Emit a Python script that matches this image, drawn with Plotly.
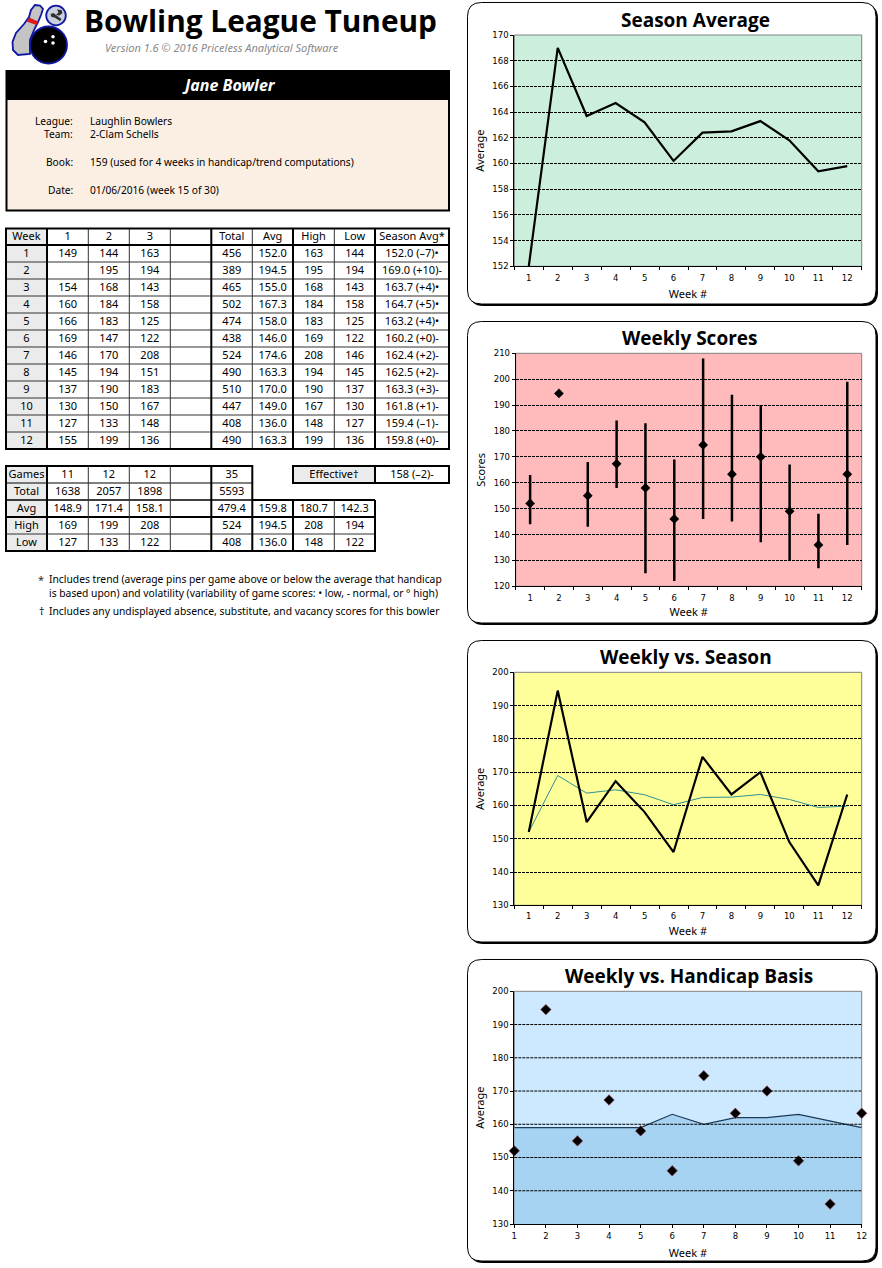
import plotly.graph_objects as go

W, H = 882, 1268

# ---------- data ----------
weeks = ["1", "2", "3", "4", "5", "6", "7", "8", "9", "10", "11", "12"]
week_nums = [1, 2, 3, 4, 5, 6, 7, 8, 9, 10, 11, 12]
game1 = ["149", "", "154", "160", "166", "169", "146", "145", "137", "130", "127", "155"]
game2 = ["144", "195", "168", "184", "183", "147", "170", "194", "190", "150", "133", "199"]
game3 = ["163", "194", "143", "158", "125", "122", "208", "151", "183", "167", "148", "136"]
totals = ["456", "389", "465", "502", "474", "438", "524", "490", "510", "447", "408", "490"]
avg_txt = ["152.0", "194.5", "155.0", "167.3", "158.0", "146.0", "174.6", "163.3", "170.0", "149.0", "136.0", "163.3"]
avg_vals = [152.0, 194.5, 155.0, 167.3, 158.0, 146.0, 174.6, 163.3, 170.0, 149.0, 136.0, 163.3]
high_vals = [163, 195, 168, 184, 183, 169, 208, 194, 190, 167, 148, 199]
low_vals = [144, 194, 143, 158, 125, 122, 146, 145, 137, 130, 127, 136]
season_vals = [152.0, 169.0, 163.7, 164.7, 163.2, 160.2, 162.4, 162.5, 163.3, 161.8, 159.4, 159.8]
season_txt = ["152.0 (–7)•", "169.0 (+10)-", "163.7 (+4)•", "164.7 (+5)•", "163.2 (+4)•", "160.2 (+0)-",
              "162.4 (+2)-", "162.5 (+2)-", "163.3 (+3)-", "161.8 (+1)-", "159.4 (–1)-", "159.8 (+0)-"]
basis_vals = [159, 159, 159, 159, 159, 163, 160, 162, 162, 163, 161, 159]

header_row = ["Week", "1", "2", "3", "", "Total", "Avg", "High", "Low", "Season Avg*"]
summary_rows = [
    ["Games", "11", "12", "12", "", "35"],
    ["Total", "1638", "2057", "1898", "", "5593"],
    ["Avg", "148.9", "171.4", "158.1", "", "479.4", "159.8", "180.7", "142.3"],
    ["High", "169", "199", "208", "", "524", "194.5", "208", "194"],
    ["Low", "127", "133", "122", "", "408", "136.0", "148", "122"],
]
info_labels = ["League:", "Team:", "Book:", "Date:"]
info_values = ["Laughlin Bowlers", "2-Clam Schells", "159 (used for 4 weeks in handicap/trend computations)",
               "01/06/2016 (week 15 of 30)"]

FONT = "Noto Sans"
TICK = "DejaVu Sans"

# ---------- pixel helpers ----------
def px(x): return x / W
def py(y): return 1 - y / H

shapes, annotations = [], []

def rect(x0, y0, x1, y1, fill="rgba(0,0,0,0)", line=None, lw=0, layer="below"):
    shapes.append(dict(type="rect", xref="paper", yref="paper", x0=px(x0), x1=px(x1), y0=py(y0), y1=py(y1),
                       fillcolor=fill, line=dict(color=line or "rgba(0,0,0,0)", width=lw), layer=layer))

def seg(x0, y0, x1, y1, lw=1, color="black", layer="below"):
    shapes.append(dict(type="line", xref="paper", yref="paper", x0=px(x0), x1=px(x1), y0=py(y0), y1=py(y1),
                       line=dict(color=color, width=lw), layer=layer))

def circle(cx, cy, r, fill, line=None, lw=0):
    shapes.append(dict(type="circle", xref="paper", yref="paper", x0=px(cx - r), x1=px(cx + r),
                       y0=py(cy - r), y1=py(cy + r), fillcolor=fill,
                       line=dict(color=line or "rgba(0,0,0,0)", width=lw), layer="below"))

def poly(points, fill, line=None, lw=0):
    d = "M" + " L".join(f"{px(a):.5f},{py(b):.5f}" for a, b in points) + " Z"
    shapes.append(dict(type="path", xref="paper", yref="paper", path=d, fillcolor=fill,
                       line=dict(color=line or "rgba(0,0,0,0)", width=lw), layer="below"))

def rrect(x0, y0, x1, y1, r, fill, line=None, lw=0):
    X0, X1, Y0, Y1, Rx, Ry = px(x0), px(x1), py(y0), py(y1), r / W, r / H
    d = (f"M{X0+Rx:.5f},{Y0:.5f} L{X1-Rx:.5f},{Y0:.5f} Q{X1:.5f},{Y0:.5f} {X1:.5f},{Y0-Ry:.5f} "
         f"L{X1:.5f},{Y1+Ry:.5f} Q{X1:.5f},{Y1:.5f} {X1-Rx:.5f},{Y1:.5f} "
         f"L{X0+Rx:.5f},{Y1:.5f} Q{X0:.5f},{Y1:.5f} {X0:.5f},{Y1+Ry:.5f} "
         f"L{X0:.5f},{Y0-Ry:.5f} Q{X0:.5f},{Y0:.5f} {X0+Rx:.5f},{Y0:.5f} Z")
    shapes.append(dict(type="path", xref="paper", yref="paper", path=d, fillcolor=fill,
                       line=dict(color=line or "rgba(0,0,0,0)", width=lw), layer="below"))

def label(x, y, text, size=11, color="black", family=FONT, anchor="center", bold=False, italic=False):
    t = text
    if bold: t = f"<b>{t}</b>"
    if italic: t = f"<i>{t}</i>"
    annotations.append(dict(xref="paper", yref="paper", x=px(x), y=py(y), text=t, showarrow=False,
                            xanchor=anchor, yanchor="middle", borderpad=0,
                            font=dict(size=size, color=color, family=family)))

fig = go.Figure()

# ---------- logo ----------
poly([(35, 5), (40, 5.5), (43, 9), (41, 15), (38, 22), (34, 30), (30, 40), (30, 54), (18, 55), (13, 50),
      (12.5, 42), (16, 33), (24, 24), (29, 17), (31, 10)], "#C4C4C4", "#1018A0", 1.8)
poly([(29.5, 17.5), (38, 21.5), (36.5, 25), (26.5, 21.5)], "#E01818")
circle(48.5, 45, 18.5, "#000000", "#1018A0", 1.8)
circle(53, 36.7, 1.8, "white")
circle(53, 43, 1.8, "white")
circle(45.5, 41.5, 1.8, "white")
circle(56, 15.5, 9.8, "#C8D0E0", "#1018A0", 1.8)
poly([(50.5, 14), (53.5, 13), (56, 15), (61.5, 19), (60, 21), (54.5, 17.5), (51.5, 17)], "#303030")
poly([(57, 9.5), (61.5, 10), (62.5, 13), (59.5, 15.5), (56, 15), (58.5, 12.5)], "#303030")

# ---------- header & info ----------
label(260.5, 20, "Bowling League Tuneup", size=29.8, family="Open Sans", bold=True)
label(222, 48, "Version 1.6 © 2016 Priceless Analytical Software", size=11, color="#8a8a8a", italic=True)

rect(6.5, 100, 448.5, 210.5, fill="#FBEEE2")
rect(6, 70, 449.5, 100, fill="black")
rect(6.5, 71, 449, 210.5, line="black", lw=2)
label(228.5, 85, "Jane Bowler", size=16, color="white", bold=True, italic=True)
for lab, val, y in zip(info_labels, info_values, [121, 134, 162, 190]):
    label(73.5, y, lab, anchor="right", size=10.2)
    label(89, y, val, anchor="left", size=10.2)

# ---------- tables ----------
col_edges = [6, 47, 88.3, 129.3, 170.3, 211.3, 252.3, 293, 334.3, 375, 449]
col_mid = [(a + b) / 2 for a, b in zip(col_edges[:-1], col_edges[1:])]
hdr_top, hdr_bot, row_h = 228.5, 245, 17
row_edges = [hdr_bot + i * row_h for i in range(13)]

rect(col_edges[0], hdr_top, col_edges[1], row_edges[-1], fill="#EBEBEB")
for y in row_edges[1:-1]:
    seg(col_edges[0], y, col_edges[-1], y, lw=1, color="#333333")
thick_cols = {1, 5, 7, 9}
for i, x in enumerate(col_edges):
    if i in (0, len(col_edges) - 1):
        continue
    seg(x, hdr_top, x, row_edges[-1], lw=2 if i in thick_cols else 1, color="black" if i in thick_cols else "#333333")
seg(col_edges[0], hdr_bot, col_edges[-1], hdr_bot, lw=2)
rect(col_edges[0], hdr_top, col_edges[-1], row_edges[-1], line="black", lw=2)

sr = [466, 483, 500, 517, 534, 551]
rect(col_edges[0], sr[0], col_edges[1], sr[-1], fill="#EBEBEB")
rect(293, sr[0], 375, sr[1], fill="#EBEBEB")
seg(6, 483, 252.3, 483, lw=1)
seg(6, 500, 252.3, 500, lw=1.3)
seg(252.3, 500, 375, 500, lw=2)
seg(6, 517, 375, 517, lw=2)
seg(6, 534, 375, 534, lw=1, color="#333333")
seg(6, 551, 375, 551, lw=2)
seg(6, 466, 252.3, 466, lw=2)
seg(6, 465, 6, 552, lw=2)
seg(47, 466, 47, 551, lw=2)
seg(88.3, 466, 88.3, 551, lw=1, color="#333333")
seg(129.3, 466, 129.3, 551, lw=1, color="#333333")
seg(170.3, 466, 170.3, 551, lw=1, color="#333333")
seg(211.3, 466, 211.3, 551, lw=2)
seg(252.3, 465, 252.3, 551, lw=2)
seg(293, 500, 293, 551, lw=2)
seg(334.3, 500, 334.3, 551, lw=1, color="#333333")
seg(375, 500, 375, 552, lw=2)
rect(293, 466, 449, 483, line="black", lw=2)
seg(375, 466, 375, 483, lw=2)

tx, ty, tt = [], [], []
for c, t in enumerate(header_row):
    tx.append(col_mid[c]); ty.append((hdr_top + hdr_bot) / 2 + 0.5); tt.append(t)
cols = [weeks, game1, game2, game3, [""] * 12, totals, avg_txt,
        [str(v) for v in high_vals], [str(v) for v in low_vals], season_txt]
for c, column in enumerate(cols):
    for r, t in enumerate(column):
        tx.append(col_mid[c]); ty.append(row_edges[r] + row_h / 2 + 0.5); tt.append(t)
for r, row in enumerate(summary_rows):
    for c, t in enumerate(row):
        tx.append(col_mid[c]); ty.append((sr[r] + sr[r + 1]) / 2 + 0.5); tt.append(t)
tx += [334, 412]; ty += [475, 475]; tt += ["Effective†", "158 (–2)-"]
fig.add_trace(go.Scatter(x=tx, y=ty, text=tt, mode="text", textposition="middle center",
                         textfont=dict(family=FONT, size=11, color="black"),
                         xaxis="x5", yaxis="y5", showlegend=False, hoverinfo="skip"))

label(41, 579, "*", size=11, color="#333333")
label(48, 579, "Includes trend (average pins per game above or below the average that handicap", anchor="left", size=10.3)
label(48, 593, "is based upon) and volatility (variability of game scores: • low, - normal, or ° high)", anchor="left", size=10.3)
label(41, 611, "†", size=10.5)
label(48, 611, "Includes any undisplayed absence, substitute, and vacancy scores for this bowler", anchor="left", size=10.3)

# ---------- chart frames ----------
frames = [
    dict(box=(467.5, 2.5, 876, 304), plot=(514.3, 35, 861.7, 266.3), bg="#CCEEDD", title="Season Average", tx=695, ty=19.5, ts=3, st=8),
    dict(box=(467.5, 321.5, 876, 623), plot=(515.7, 353.3, 861.7, 586.3), bg="#FFBBBB", title="Weekly Scores", tx=689.5, ty=337.5, ts=3, st=6.5),
    dict(box=(467.5, 640.5, 876, 942), plot=(514.3, 672.3, 861.7, 905.3), bg="#FFFF99", title="Weekly vs. Season", tx=686, ty=656.5, ts=2, st=7.5),
    dict(box=(467.5, 959.5, 876, 1261), plot=(514.3, 991.3, 861.7, 1224), bg="#CCE9FF", title="Weekly vs. Handicap Basis", tx=688.5, ty=975.5, ts=1, st=8.5),
]
for f in frames:
    x0, y0, x1, y1 = f["box"]
    rrect(x0 + 2, y0 + 2, x1 + 2, y1 + 2, 14, "black")
    rrect(x0, y0, x1, y1, 14, "white", "black", 1)
    a, b, c, d = f["plot"]
    rect(a, b, c, d, fill=f["bg"], line="#808080", lw=1)
    label(f["tx"], f["ty"], f["title"], size=19, family="Open Sans", bold=True)

def dom(f):
    a, b, c, d = f["plot"]
    return [px(a), px(c)], [py(d), py(b)]

DASH = "3px,1px"
GRID = dict(showgrid=True, gridcolor="black", gridwidth=1, griddash=DASH, zeroline=False, automargin=False,
            showline=True, linecolor="black", linewidth=1, ticks="outside", ticklen=3, tickcolor="black",
            tickfont=dict(family=TICK, size=8.5, color="black"))

def xax(f, **kw):
    d = dict(domain=dom(f)[0], anchor=kw.pop("anc"), showgrid=False, zeroline=False, showline=True, linecolor="black",
             linewidth=1, ticks="outside", ticklen=3, tickcolor="black", automargin=False,
             ticklabelstandoff=f["ts"],
             tickfont=dict(family=TICK, size=8.5, color="black"),
             title=dict(text="Week #", font=dict(family=FONT, size=11, color="black"), standoff=f["st"]))
    d.update(kw)
    return d

def yax(f, rng, dt, ttl, anc):
    d = dict(GRID)
    d.update(domain=dom(f)[1], anchor=anc, range=rng, dtick=dt, tick0=rng[0],
             title=dict(text=ttl, font=dict(family=FONT, size=11, color="black"), standoff=5))
    return d

cat = dict(type="category", categoryorder="array", categoryarray=weeks, tickson="boundaries", range=[-0.5, 11.5])

fig.add_trace(go.Scatter(x=weeks, y=season_vals, mode="lines", line=dict(color="black", width=2.2),
                         xaxis="x", yaxis="y", showlegend=False))
fig.add_trace(go.Scatter(x=weeks, y=avg_vals, mode="markers",
                         marker=dict(symbol="diamond", size=7.5, color="black"),
                         error_y=dict(type="data", symmetric=False,
                                      array=[h - a for h, a in zip(high_vals, avg_vals)],
                                      arrayminus=[a - l for a, l in zip(avg_vals, low_vals)],
                                      color="black", thickness=2.5, width=0),
                         xaxis="x2", yaxis="y2", showlegend=False))
fig.add_trace(go.Scatter(x=weeks, y=season_vals, mode="lines", line=dict(color="#2F8F96", width=1),
                         xaxis="x3", yaxis="y3", showlegend=False))
fig.add_trace(go.Scatter(x=weeks, y=avg_vals, mode="lines", line=dict(color="black", width=2.2),
                         xaxis="x3", yaxis="y3", showlegend=False))
fig.add_trace(go.Scatter(x=week_nums, y=basis_vals, mode="lines", fill="tozeroy", fillcolor="#A6D3F2",
                         line=dict(color="#1F3A55", width=1.2), xaxis="x4", yaxis="y4", showlegend=False))
fig.add_trace(go.Scatter(x=week_nums, y=avg_vals, mode="markers", cliponaxis=False,
                         marker=dict(symbol="diamond", size=8, color="black", line=dict(color="rgba(139,60,60,0.7)", width=1)),
                         xaxis="x4", yaxis="y4", showlegend=False))
for v in [140, 150, 160, 170, 180, 190]:
    shapes.append(dict(type="line", xref="x4 domain", yref="y4", x0=0, x1=1, y0=v, y1=v,
                       line=dict(color="black", width=1, dash=DASH), layer="above"))

layout_axes = dict(
    xaxis=xax(frames[0], anc="y", **cat),
    yaxis=yax(frames[0], [152, 170], 2, "Average", "x"),
    xaxis2=xax(frames[1], anc="y2", **cat),
    yaxis2=yax(frames[1], [120, 210], 10, "Scores", "x2"),
    xaxis3=xax(frames[2], anc="y3", **cat),
    yaxis3=yax(frames[2], [130, 200], 10, "Average", "x3"),
    xaxis4=xax(frames[3], anc="y4", type="linear", range=[1, 12], dtick=1, tick0=1),
    yaxis4=yax(frames[3], [130, 200], 10, "Average", "x4"),
    xaxis5=dict(domain=[0, 1], range=[0, W], visible=False, anchor="y5", fixedrange=True, automargin=False),
    yaxis5=dict(domain=[0, 1], range=[H, 0], visible=False, anchor="x5", fixedrange=True, automargin=False),
)
layout_axes["yaxis4"]["showgrid"] = False

fig.update_layout(width=W, height=H, margin=dict(l=0, r=0, t=0, b=0, autoexpand=False), autosize=False,
                  paper_bgcolor="white", plot_bgcolor="rgba(0,0,0,0)",
                  shapes=shapes, annotations=annotations, showlegend=False,
                  font=dict(family=FONT), **layout_axes)

fig.write_html("out.html", config=dict(displayModeBar=False),
               post_script="document.body.style.margin='0';document.body.style.overflow='hidden';")
